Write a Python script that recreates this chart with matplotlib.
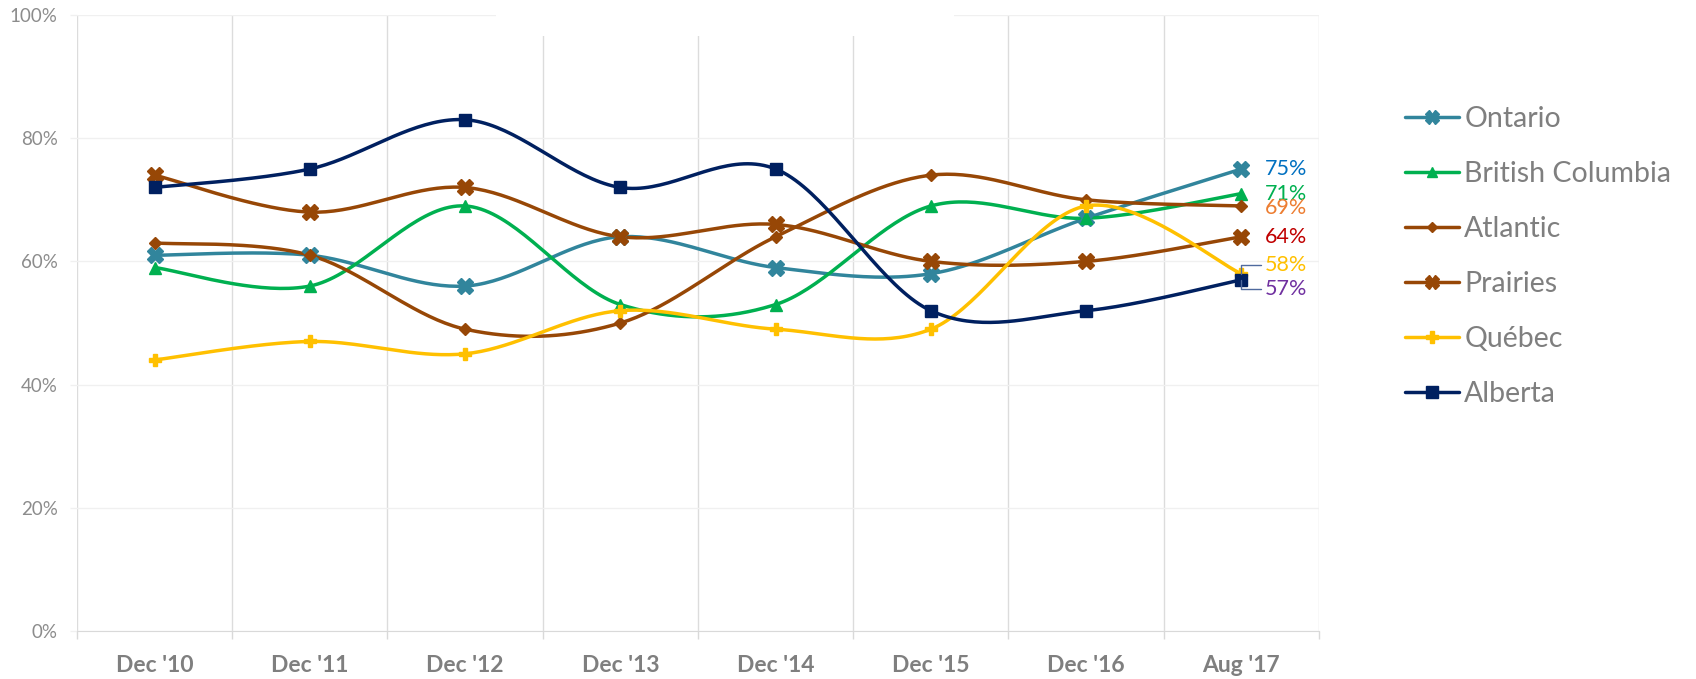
import numpy as np
import matplotlib.pyplot as plt
from matplotlib.lines import Line2D
from matplotlib.patches import Rectangle

plt.rcParams['font.family'] = ['Lato', 'DejaVu Sans']

# datos (porcentajes)
periods = ["Dec '10", "Dec '11", "Dec '12", "Dec '13", "Dec '14", "Dec '15", "Dec '16", "Aug '17"]
ontario = [61, 61, 56, 64, 59, 58, 67, 75]
british_columbia = [59, 56, 69, 53, 53, 69, 67, 71]
atlantic = [63, 61, 49, 50, 64, 74, 70, 69]
prairies = [74, 68, 72, 64, 66, 60, 60, 64]
quebec = [44, 47, 45, 52, 49, 49, 69, 58]
alberta = [72, 75, 83, 72, 75, 52, 52, 57]

series = [
    ('Ontario', ontario, '#31859C', 'X', 11),
    ('British Columbia', british_columbia, '#00B050', '^', 8),
    ('Atlantic', atlantic, '#974706', 'D', 6),
    ('Prairies', prairies, '#974706', 'X', 11),
    ('Québec', quebec, '#FFC000', 'P', 9),
    ('Alberta', alberta, '#002060', 's', 9),
]

# etiquetas del ultimo punto: color y desplazamiento vertical (px)
end_labels = {
    'Ontario': ('#0070C0', 0),
    'British Columbia': ('#00B050', 0),
    'Atlantic': ('#ED7D31', -2),
    'Prairies': ('#C00000', 0),
    'Québec': ('#FFC000', 9),
    'Alberta': ('#7030A0', -9),
}


# curva suavizada tipo Excel (Catmull-Rom en Bezier)
def smooth(xs, ys, n=40):
    pts = np.column_stack([xs, ys]).astype(float)
    out = [pts[0]]
    for i in range(len(pts) - 1):
        p0 = pts[i - 1] if i > 0 else pts[i]
        p1 = pts[i]
        p2 = pts[i + 1]
        p3 = pts[i + 2] if i + 2 < len(pts) else pts[i + 1]
        c1 = p1 + (p2 - p0) / 6
        c2 = p2 - (p3 - p1) / 6
        t = np.linspace(0, 1, n)[1:, None]
        b = ((1 - t) ** 3) * p1 + 3 * ((1 - t) ** 2) * t * c1 + 3 * (1 - t) * t ** 2 * c2 + t ** 3 * p2
        out.extend(b)
    out = np.array(out)
    return out[:, 0], out[:, 1]


fig = plt.figure(figsize=(16.96, 6.79), dpi=100)
ax = fig.add_axes([77 / 1696, 1 - 631 / 679, 1242 / 1696, 616 / 679])

x = np.arange(len(periods))
handles = []
for name, vals, color, marker, ms in series:
    sx, sy = smooth(x, vals)
    ax.plot(sx, sy, color=color, lw=2.5, solid_capstyle='round', zorder=3)
    ax.plot(x, vals, linestyle='none', marker=marker, markersize=ms,
            color=color, markeredgecolor=color, zorder=4)
    handles.append(Line2D([0], [0], color=color, lw=2.5, marker=marker,
                          markersize=ms * 0.9, markeredgecolor=color,
                          solid_capstyle='round'))

# etiquetas finales
for name, vals, color, marker, ms in series:
    lc, dy = end_labels[name]
    last = vals[-1]
    if name in ('Québec', 'Alberta'):
        ax.annotate(f'{last}%', xy=(x[-1], last), xytext=(17, dy * 0.72),
                    textcoords='offset points', color=lc, fontsize=15.5,
                    va='center', ha='left', zorder=6,
                    arrowprops=dict(arrowstyle='-', color='#4F6A9E', lw=1,
                                    shrinkA=1, shrinkB=0,
                                    connectionstyle='angle,angleA=0,angleB=90,rad=0'))
    else:
        ax.annotate(f'{last}%', xy=(x[-1], last), xytext=(17, dy * 0.72),
                    textcoords='offset points', color=lc, fontsize=15.5,
                    va='center', ha='left', zorder=6)

ax.set_xlim(-0.5, len(periods) - 0.5)
ax.set_ylim(0, 100)
ax.set_yticks(range(0, 101, 20))
ax.set_yticklabels([f'{v}%' for v in range(0, 101, 20)])
ax.set_xticks(x)
ax.set_xticklabels(periods, fontweight='bold')
ax.set_xticks(np.arange(-0.5, len(periods)), minor=True)

ax.tick_params(axis='x', which='major', length=0, pad=17, labelsize=16.5, labelcolor='#7F7F7F')
ax.tick_params(axis='x', which='minor', length=6, color='#D9D9D9', width=1)
ax.tick_params(axis='y', which='major', length=5, color='#F0F0F0', width=1,
               pad=9, labelsize=13.5, labelcolor='#8C8C8C')

ax.grid(which='minor', axis='x', color='#DCDCDC', lw=1)
ax.grid(which='major', axis='y', color='#F0F0F0', lw=1)
ax.set_axisbelow(True)

for s in ['top', 'left', 'right']:
    ax.spines[s].set_visible(False)
ax.spines['bottom'].set_color('#D9D9D9')

# recuadro blanco sobre la parte superior
fig.patches.append(Rectangle((496 / 1696, 1 - 36 / 679), (954 - 496) / 1696, 36 / 679,
                             transform=fig.transFigure, facecolor='white',
                             edgecolor='none', zorder=5))

fig.legend(handles, [s[0] for s in series], loc='upper left',
           bbox_to_anchor=(1405 / 1696, 1 - 106 / 679), frameon=False,
           fontsize=20.5, labelcolor='#7F7F7F', handlelength=1.9,
           handletextpad=0.18, labelspacing=1.02, borderpad=0, borderaxespad=0)

fig.savefig('out.png', dpi=100, facecolor='white')
